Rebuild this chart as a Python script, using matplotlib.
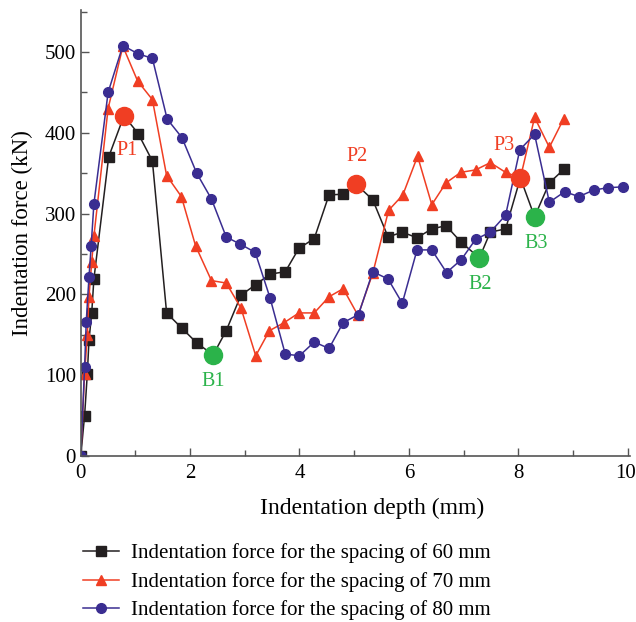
import numpy as np
import matplotlib
matplotlib.use('Agg')
import matplotlib.pyplot as plt
from matplotlib.ticker import MultipleLocator
from matplotlib.transforms import ScaledTranslation

plt.rcParams['font.family'] = ['Liberation Serif', 'DejaVu Serif']

# 60 mm spacing
depth60 = [0, 0.07, 0.12, 0.15, 0.2, 0.24, 0.51, 0.79, 1.05, 1.31, 1.57, 1.85, 2.12, 2.42,
           2.66, 2.93, 3.2, 3.46, 3.74, 3.99, 4.27, 4.54, 4.8, 5.04, 5.34, 5.62, 5.88, 6.15,
           6.42, 6.68, 6.95, 7.29, 7.49, 7.77, 8.04, 8.3, 8.57, 8.84]
force60 = [0, 50, 102, 143, 177, 219, 370, 421, 399, 365, 177, 158, 140, 125,
           155, 199, 212, 225, 228, 257, 269, 323, 324, 336, 317, 271, 277, 270,
           281, 285, 265, 245, 277, 281, 344, 296, 338, 355]

# 70 mm spacing
depth70 = [0, 0.07, 0.12, 0.15, 0.2, 0.24, 0.5, 0.77, 1.04, 1.31, 1.57, 1.84, 2.1, 2.39,
           2.66, 2.93, 3.2, 3.45, 3.72, 3.99, 4.27, 4.54, 4.8, 5.07, 5.34, 5.63, 5.89,
           6.16, 6.42, 6.68, 6.95, 7.22, 7.49, 7.77, 8.04, 8.3, 8.57, 8.83]
force70 = [0, 102, 150, 197, 240, 272, 430, 507, 464, 441, 347, 321, 260, 217,
           214, 183, 124, 155, 165, 177, 177, 197, 207, 174, 226, 304, 323,
           371, 311, 338, 351, 354, 363, 351, 344, 419, 382, 417]

# 80 mm spacing
depth80 = [0, 0.07, 0.1, 0.15, 0.19, 0.24, 0.5, 0.77, 1.04, 1.31, 1.58, 1.85, 2.12, 2.39,
           2.66, 2.92, 3.19, 3.46, 3.74, 4.0, 4.27, 4.54, 4.8, 5.08, 5.34, 5.62, 5.88,
           6.15, 6.42, 6.69, 6.96, 7.22, 7.49, 7.77, 8.03, 8.3, 8.57, 8.85, 9.11, 9.38,
           9.64, 9.91]
force80 = [0, 110, 166, 221, 260, 312, 450, 508, 498, 492, 417, 394, 350, 318,
           271, 262, 252, 196, 126, 124, 141, 133, 165, 175, 228, 219, 189,
           255, 255, 227, 243, 268, 277, 298, 379, 398, 314, 327, 321, 329,
           332, 333]

# characteristic points
peak_names = ['P1', 'P2', 'P3']
peak_x = [0.79, 5.04, 8.04]
peak_y = [421, 336, 344]
base_names = ['B1', 'B2', 'B3']
base_x = [2.42, 7.29, 8.3]
base_y = [125, 245, 296]

black = '#231f20'
red = '#f03e23'
blue = '#3a2d91'
green = '#2bb34a'

fig = plt.figure(figsize=(6.36, 6.22), dpi=100)
ax = fig.add_axes([0.127, 0.267, 0.864, 0.717])

l1, = ax.plot(depth60, force60, '-s', color=black, lw=1.1, ms=6.5,
              label='Indentation force for the spacing of 60 mm')
l2, = ax.plot(depth70, force70, '-^', color=red, lw=1.1, ms=7.5,
              label='Indentation force for the spacing of 70 mm')
l3, = ax.plot(depth80, force80, '-o', color=blue, lw=1.1, ms=7,
              label='Indentation force for the spacing of 80 mm')

ax.plot(peak_x, peak_y, 'o', color=red, ms=13, ls='none', zorder=5)
ax.plot(base_x, base_y, 'o', color=green, ms=13, ls='none', zorder=5)

peak_off = [(0.05, -43), (0.01, 35), (-0.3, 40)]
for n, x, y, (dx, dy) in zip(peak_names, peak_x, peak_y, peak_off):
    ax.text(x + dx, y + dy, n, color=red, fontsize=14.5, ha='center', va='center')
base_off = [(0.0, -33), (0.02, -33), (0.03, -33)]
for n, x, y, (dx, dy) in zip(base_names, base_x, base_y, base_off):
    ax.text(x + dx, y + dy, n, color=green, fontsize=14.5, ha='center', va='center')

ax.set_xlim(0, 10.05)
ax.set_ylim(0, 552)
ax.xaxis.set_major_locator(MultipleLocator(2))
ax.xaxis.set_minor_locator(MultipleLocator(1))
ax.yaxis.set_major_locator(MultipleLocator(100))
ax.yaxis.set_minor_locator(MultipleLocator(50))
ax.tick_params(which='both', direction='in', color='#555555', labelsize=15, width=1)
ax.tick_params(which='major', length=6)
ax.tick_params(which='minor', length=4)
ax.tick_params(axis='x', pad=6)
for s in ['top', 'right']:
    ax.spines[s].set_visible(False)
for s in ['left', 'bottom']:
    ax.spines[s].set_color('#555555')
    ax.spines[s].set_linewidth(1.2)

ax.set_xlabel('Indentation depth (mm)', fontsize=17)
ax.set_ylabel('Indentation force (kN)', fontsize=16.5)
ax.xaxis.set_label_coords(0.53, -0.095)
ax.yaxis.set_label_coords(-0.087, 0.5)

# keep the "10" tick label inside the figure
fig.canvas.draw()
for tick in ax.xaxis.get_major_ticks():
    if abs(tick.get_loc() - 10) < 1e-6:
        tick.label1.set_horizontalalignment('right')
        tick.label1.set_transform(tick.label1.get_transform() +
                                  ScaledTranslation(8 / 100, 0, fig.dpi_scale_trans))

fig.legend(handles=[l1, l2, l3], loc='upper left', bbox_to_anchor=(0.118, 0.14),
           frameon=False, fontsize=15, handlelength=1.7, labelspacing=0.42,
           handletextpad=0.6, borderaxespad=0)

fig.savefig('out.png', dpi=100)
